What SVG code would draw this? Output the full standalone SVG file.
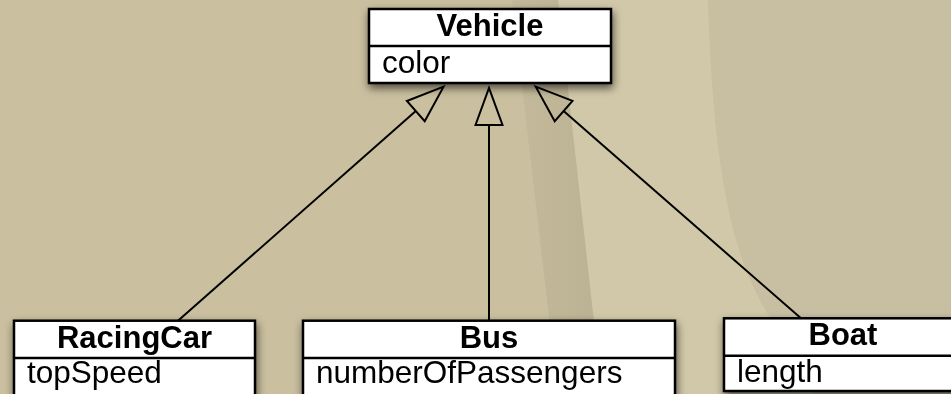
<svg xmlns="http://www.w3.org/2000/svg" width="951" height="394" viewBox="0 0 951 394">
  <style>
    .box { fill: #ffffff; stroke: #000000; stroke-width: 2.5; }
    .div { stroke: #000000; stroke-width: 2.5; fill: none; }
    .title { font-family: "Liberation Sans", Arial, sans-serif; font-weight: bold; font-size: 31px; fill: #000000; text-anchor: middle; }
    .attr { font-family: "Liberation Sans", Arial, sans-serif; font-size: 31.5px; fill: #000000; }
    .edge { stroke: #000000; stroke-width: 2; fill: none; marker-end: url(#gen); }
  </style>
  <defs>
    <marker id="gen" markerUnits="userSpaceOnUse" markerWidth="44" markerHeight="33" viewBox="0 0 44 33" refX="2" refY="16.5" orient="auto" overflow="visible">
      <path d="M2,3 L39,16.5 L2,30 Z" fill="none" stroke="#000000" stroke-width="2" stroke-linejoin="miter"/>
    </marker>
    <filter id="shadow" x="-10%" y="-20%" width="120%" height="150%">
      <feDropShadow dx="1" dy="4" stdDeviation="4.5" flood-color="#000000" flood-opacity="0.6"/>
    </filter>
    <linearGradient id="bandGrad" x1="0" y1="0" x2="1" y2="0">
      <stop offset="0" stop-color="#c4ba9b"/>
      <stop offset="1" stop-color="#bbb193"/>
    </linearGradient>
  </defs>

  <g id="background">
    <rect x="0" y="0" width="951" height="394" fill="#cabf9f"/>
    <path d="M558,0 L708,0 C712,120 722,230 760,300 C780,335 800,370 815,394 L602,394 Z" fill="#d1c8a9"/>
    <path d="M708,0 L951,0 L951,394 L815,394 C800,370 780,335 760,300 C722,230 712,120 708,0 Z" fill="#c8bfa3"/>
    <path d="M512,0 L558,0 L602,394 L558,394 Z" fill="url(#bandGrad)"/>
  </g>

  <g id="connectors">
    <path class="edge" d="M489,320.7 L489,125"/>
    <path class="edge" d="M178,320.7 L415.8,111.1"/>
    <path class="edge" d="M801,318.3 L563.6,111"/>
  </g>

  <g id="node-vehicle" filter="url(#shadow)">
    <rect class="box" x="369" y="9" width="242" height="74"/>
    <line class="div" x1="369" y1="46" x2="611" y2="46"/>
    <text class="title" x="490" y="36">Vehicle</text>
    <text class="attr" x="382" y="72.5">color</text>
  </g>

  <g id="node-racingcar" filter="url(#shadow)">
    <rect class="box" x="14" y="320.7" width="241" height="90"/>
    <line class="div" x1="14" y1="358" x2="255" y2="358"/>
    <text class="title" x="134.5" y="348.3">RacingCar</text>
    <text class="attr" x="27" y="383">topSpeed</text>
  </g>

  <g id="node-bus" filter="url(#shadow)">
    <rect class="box" x="303" y="320.7" width="372" height="90"/>
    <line class="div" x1="303" y1="358" x2="675" y2="358"/>
    <text class="title" x="489" y="348.3">Bus</text>
    <text class="attr" x="316" y="383">numberOfPassengers</text>
  </g>

  <g id="node-boat" filter="url(#shadow)">
    <rect class="box" x="724" y="318.3" width="238" height="72.7"/>
    <line class="div" x1="724" y1="355.7" x2="962" y2="355.7"/>
    <text class="title" x="843" y="345">Boat</text>
    <text class="attr" x="737" y="381.5">length</text>
  </g>
</svg>
